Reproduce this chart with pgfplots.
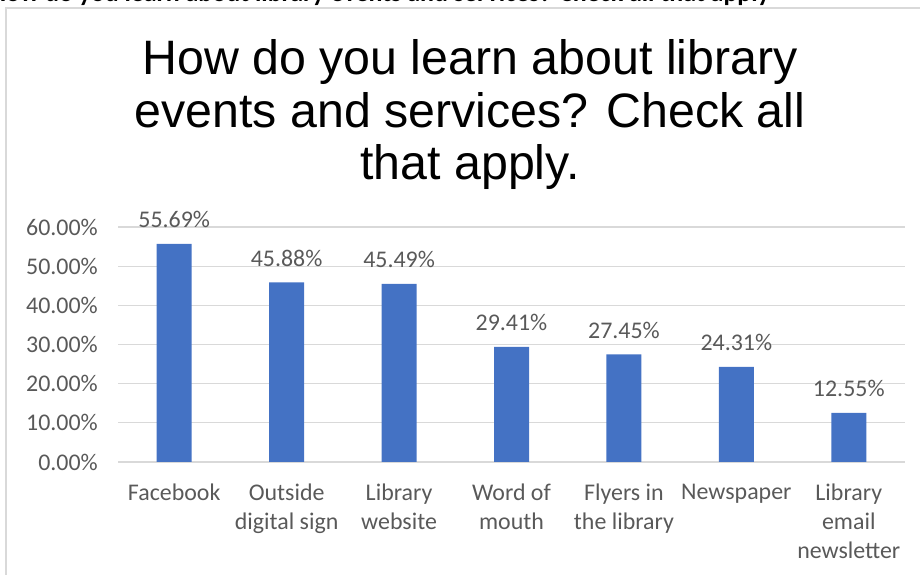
\documentclass[border=0pt]{standalone}
\usepackage{pgfplots}
\pgfplotsset{compat=1.18}
\usepackage{fontspec}
\setmainfont{Carlito}
\newfontfamily\titlefont{Liberation Sans}
\definecolor{barblue}{HTML}{4472C4}
\definecolor{txtgray}{RGB}{89,89,89}
\definecolor{gridgray}{RGB}{217,217,217}

\begin{document}
\begin{tikzpicture}
\path[use as bounding box] (0bp,0bp) rectangle (920bp,575bp);
% chart frame
\draw[gridgray, line width=1.2bp] (6bp,0bp) -- (6bp,567bp) -- (920bp,567bp);
% cut-off heading above the chart
\node[anchor=base east, inner sep=0, font=\bfseries\fontsize{26}{30}\selectfont] at (770bp,573.5bp)
  {How do you learn about library events and services? Check all that apply};
% title (base anchor = baseline of the last line)
\node[anchor=base, align=center, inner sep=0, font=\titlefont\fontsize{48.5}{53}\selectfont] at (470bp,395bp)
  {How do you learn about library\\events and services? Check all\\that apply.};

\begin{axis}[
  at={(118bp,113bp)}, anchor=south west,
  width=787bp, height=235bp, scale only axis,
  xmin=-0.5, xmax=6.5, ymin=0, ymax=60,
  ybar, bar width=35bp,
  axis line style={draw=none},
  major tick length=0pt,
  ymajorgrids, major grid style={gridgray, line width=1.3bp},
  ytick={0,10,20,30,40,50,60},
  yticklabels={0.00\%,10.00\%,20.00\%,30.00\%,40.00\%,50.00\%,60.00\%},
  yticklabel style={font=\fontsize{24}{29}\selectfont, text=txtgray, inner sep=0pt, xshift=-20bp},
  xtick=data,
  xticklabels={Facebook,{Outside\\digital sign},{Library\\website},{Word of\\mouth},{Flyers in\\the library},Newspaper,{Library\\email\\newsletter}},
  xticklabel style={font=\fontsize{24}{29}\selectfont, text=txtgray, align=center, inner sep=0pt, yshift=-22bp},
  nodes near coords={\pgfmathprintnumber[fixed,fixed zerofill,precision=2]{\pgfplotspointmeta}\%},
  /pgf/number format/assume math mode=true,
  every node near coord/.append style={font=\fontsize{24}{29}\selectfont, text=txtgray, anchor=base, inner sep=0pt, yshift=16bp},
]
\addplot[fill=barblue, draw=none] coordinates {
  (0,55.69) (1,45.88) (2,45.49) (3,29.41) (4,27.45) (5,24.31) (6,12.55)
};
\end{axis}
\end{tikzpicture}
\end{document}
